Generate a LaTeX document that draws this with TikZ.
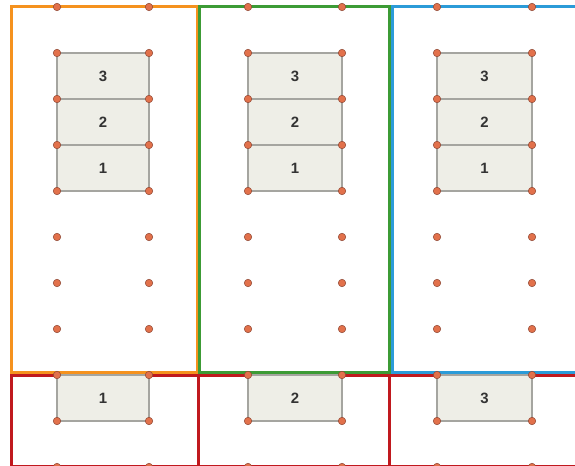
\documentclass[tikz,border=0pt]{standalone}
\usepackage{fontspec}
\setmainfont{Liberation Sans}
\usetikzlibrary{fit}

\definecolor{ordcol}{HTML}{F5921E}
\definecolor{grncol}{HTML}{3C9B35}
\definecolor{blucol}{HTML}{2B9BD8}
\definecolor{redcol}{HTML}{C0191E}
\definecolor{dotfill}{HTML}{E2714B}
\definecolor{dotline}{HTML}{8C4532}
\definecolor{cellfill}{HTML}{EEEEE7}
\definecolor{cellline}{HTML}{A5A5A0}
\definecolor{numtext}{HTML}{333333}

\begin{document}
\begin{tikzpicture}[
		x=1bp,y=-1bp,
		font=\fontsize{15}{17}\selectfont\bfseries,
		frame/.style={line width=3bp},
		cell/.style={draw=cellline,fill=cellfill,line width=1.1bp,inner sep=0pt,
			label={[text=numtext,inner sep=0pt]center:#1}},
		pt/.style={circle,draw=dotline,fill=dotfill,line width=0.5bp,minimum size=7.5bp,inner sep=0pt}
		]
		\useasboundingbox (0,0) rectangle (575,466);

		% grid of points
		\foreach \cx [count=\i] in {57,149,248,342,437,532}
			\foreach \j in {0,...,10}
				\coordinate (p-\i-\j) at (\cx,{7+46*\j});

		% bottom row frames
		\draw[frame,redcol] (11,375) rectangle (198,466);
		\draw[frame,redcol] (198,375) rectangle (389,466);
		\draw[frame,redcol] (389,375) rectangle (580,466);

		% top frames
		\draw[frame,ordcol] (11.5,7) rectangle (197,372);
		\draw[frame,grncol] (199,7) rectangle (389,372);
		\draw[frame,blucol] (580,7) -- (392,7) -- (392,372) -- (580,372);

		% stacks
		\node[cell=3,fit=(p-1-1)(p-2-2)] (a3) {};
		\node[cell=2,fit=(p-1-2)(p-2-3)] (a2) {};
		\node[cell=1,fit=(p-1-3)(p-2-4)] (a1) {};
		\node[cell=3,fit=(p-3-1)(p-4-2)] (b3) {};
		\node[cell=2,fit=(p-3-2)(p-4-3)] (b2) {};
		\node[cell=1,fit=(p-3-3)(p-4-4)] (b1) {};
		\node[cell=3,fit=(p-5-1)(p-6-2)] (c3) {};
		\node[cell=2,fit=(p-5-2)(p-6-3)] (c2) {};
		\node[cell=1,fit=(p-5-3)(p-6-4)] (c1) {};

		% moved pieces
		\node[cell=1,fit=(p-1-8)(p-2-9)] (m1) {};
		\node[cell=2,fit=(p-3-8)(p-4-9)] (m2) {};
		\node[cell=3,fit=(p-5-8)(p-6-9)] (m3) {};

		\foreach \i in {1,...,6}
			\foreach \j in {0,...,10}
				\node[pt] (d-\i-\j) at (p-\i-\j) {};
	\end{tikzpicture}
\end{document}
